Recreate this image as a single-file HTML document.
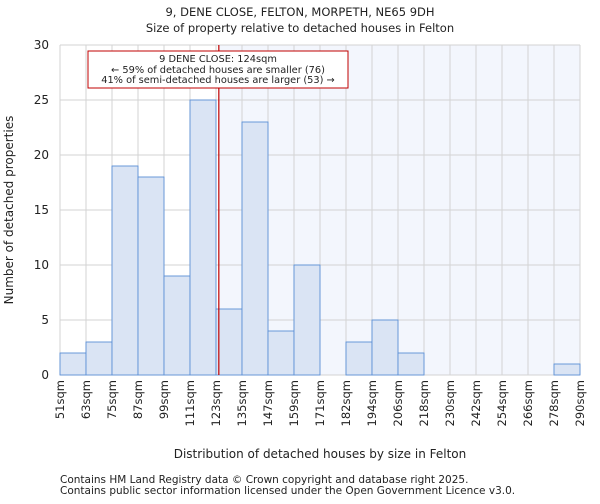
<!DOCTYPE html>
<html><head><meta charset="utf-8"><style>
body{margin:0;background:#fff;font-family:"DejaVu Sans","Liberation Sans",sans-serif}
text{font-family:"DejaVu Sans","Liberation Sans",sans-serif;fill:#222}
</style></head><body>
<svg id="chart" width="600" height="500" xmlns="http://www.w3.org/2000/svg">
<text x="300" y="16" text-anchor="middle" font-size="11.5">9, DENE CLOSE, FELTON, MORPETH, NE65 9DH</text>
<text x="300" y="32" text-anchor="middle" font-size="11.5">Size of property relative to detached houses in Felton</text>
<g id="plot"></g>
<text x="320" y="458" text-anchor="middle" font-size="12">Distribution of detached houses by size in Felton</text>
<text transform="translate(13,210) rotate(-90)" text-anchor="middle" font-size="12">Number of detached properties</text>
<text x="60" y="483" font-size="10.5" fill="#444">Contains HM Land Registry data © Crown copyright and database right 2025.</text>
<text x="60" y="494" font-size="10.5" fill="#444">Contains public sector information licensed under the Open Government Licence v3.0.</text>
</svg>
<script>
const binEdges=[51,63,75,87,99,111,123,135,147,159,171,182,194,206,218,230,242,254,266,278,290];
const counts=[2,3,19,18,9,25,6,23,4,10,0,3,5,2,0,0,0,0,0,1];
const yTicks=[0,5,10,15,20,25,30];
const propertySize=124;
const NS='http://www.w3.org/2000/svg';
const L=60,R=580,T=45,B=375;
const xi=i=>L+i*(R-L)/(binEdges.length-1);
const xv=v=>L+(v-binEdges[0])/(binEdges[binEdges.length-1]-binEdges[0])*(R-L);
const y=v=>B-v/30*(B-T);
const g=document.getElementById('plot');
function mk(t,a){const e=document.createElementNS(NS,t);for(const k in a)e.setAttribute(k,a[k]);g.appendChild(e);return e;}
const px=xv(propertySize);
let e=mk('rect',{x:L,y:T,width:px-L,height:B-T,fill:'#fff'});


e=mk('rect',{x:px,y:T,width:R-px,height:B-T,fill:'#f3f6fd'});


binEdges.forEach((b,i)=>{const l=mk('line',{x1:xi(i),x2:xi(i),y1:T,y2:B,stroke:'#d3d3d3'});


const t=mk('text',{transform:`translate(${xi(i)+4},380) rotate(-90)`,'text-anchor':'end','font-size':'11.5'});t.textContent=b+'sqm';

});
yTicks.forEach(v=>{const l=mk('line',{x1:L,x2:R,y1:y(v),y2:y(v),stroke:'#d3d3d3'});


const t=mk('text',{x:L-11,y:y(v)+4,'text-anchor':'end','font-size':'12'});t.textContent=v;

});
counts.forEach((c,i)=>{if(!c)return;const r=mk('rect',{x:xi(i),y:y(c),width:xi(i+1)-xi(i),height:B-y(c),fill:'#dae4f4',stroke:'#5b8fd6','stroke-width':0.9});

});
e=mk('line',{x1:px,x2:px,y1:T,y2:B,stroke:'#c00000','stroke-width':1.2});


e=mk('rect',{x:88,y:51,width:260,height:37,fill:'#fff',stroke:'#c00000'});


[['9 DENE CLOSE: 124sqm',62],['← 59% of detached houses are smaller (76)',73],['41% of semi-detached houses are larger (53) →',83]].forEach(([s,yy])=>{const t=mk('text',{x:218,y:yy,'text-anchor':'middle','font-size':'9.8'});t.textContent=s;

});
</script>
</body></html>
